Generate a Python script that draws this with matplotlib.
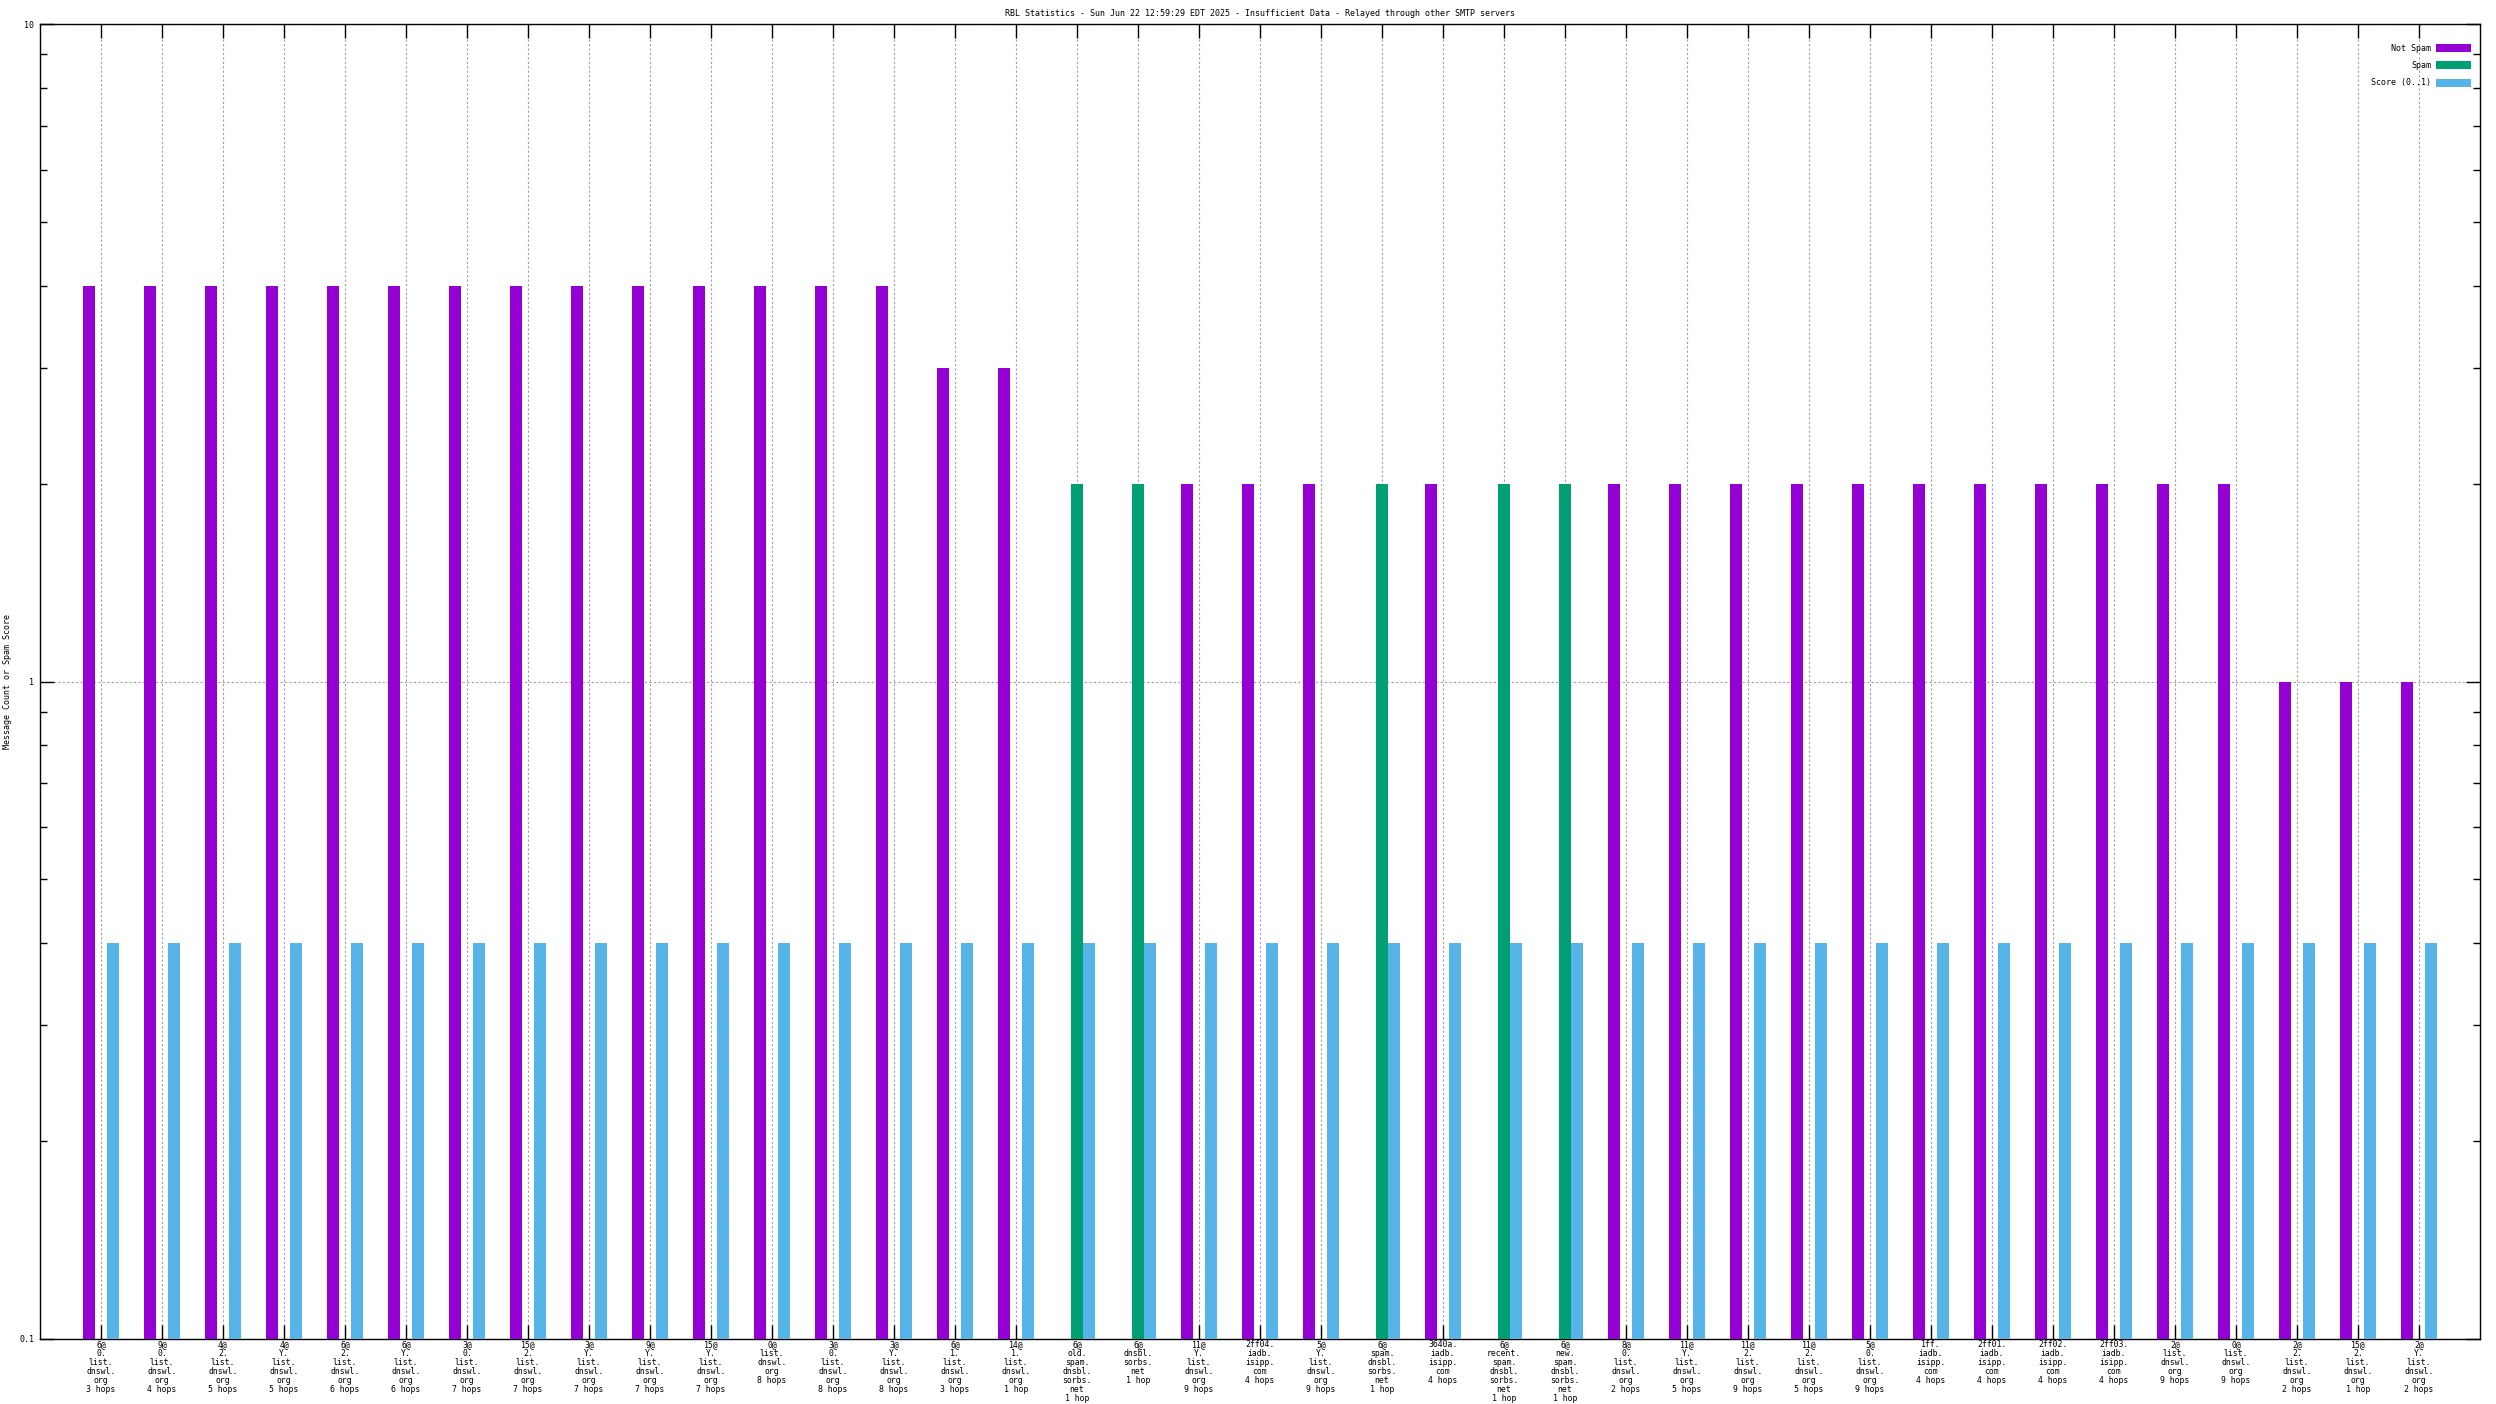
import matplotlib
matplotlib.use('Agg')
from matplotlib import pyplot as plt
from matplotlib.ticker import LogLocator, NullFormatter
import numpy as np

# RBL statistik
labels = [
    '6@\n0.\nlist.\ndnswl.\norg\n3 hops',
    '9@\n0.\nlist.\ndnswl.\norg\n4 hops',
    '4@\n2.\nlist.\ndnswl.\norg\n5 hops',
    '4@\nY.\nlist.\ndnswl.\norg\n5 hops',
    '6@\n2.\nlist.\ndnswl.\norg\n6 hops',
    '6@\nY.\nlist.\ndnswl.\norg\n6 hops',
    '3@\n0.\nlist.\ndnswl.\norg\n7 hops',
    '15@\n2.\nlist.\ndnswl.\norg\n7 hops',
    '3@\nY.\nlist.\ndnswl.\norg\n7 hops',
    '9@\nY.\nlist.\ndnswl.\norg\n7 hops',
    '15@\nY.\nlist.\ndnswl.\norg\n7 hops',
    '0@\nlist.\ndnswl.\norg\n8 hops',
    '3@\n0.\nlist.\ndnswl.\norg\n8 hops',
    '3@\nY.\nlist.\ndnswl.\norg\n8 hops',
    '6@\n1.\nlist.\ndnswl.\norg\n3 hops',
    '14@\n1.\nlist.\ndnswl.\norg\n1 hop',
    '6@\nold.\nspam.\ndnsbl.\nsorbs.\nnet\n1 hop',
    '6@\ndnsbl.\nsorbs.\nnet\n1 hop',
    '11@\nY.\nlist.\ndnswl.\norg\n9 hops',
    '2ff04.\niadb.\nisipp.\ncom\n4 hops',
    '5@\nY.\nlist.\ndnswl.\norg\n9 hops',
    '6@\nspam.\ndnsbl.\nsorbs.\nnet\n1 hop',
    '3640a.\niadb.\nisipp.\ncom\n4 hops',
    '6@\nrecent.\nspam.\ndnsbl.\nsorbs.\nnet\n1 hop',
    '6@\nnew.\nspam.\ndnsbl.\nsorbs.\nnet\n1 hop',
    '8@\n0.\nlist.\ndnswl.\norg\n2 hops',
    '11@\nY.\nlist.\ndnswl.\norg\n5 hops',
    '11@\n2.\nlist.\ndnswl.\norg\n9 hops',
    '11@\n2.\nlist.\ndnswl.\norg\n5 hops',
    '5@\n0.\nlist.\ndnswl.\norg\n9 hops',
    '1ff.\niadb.\nisipp.\ncom\n4 hops',
    '2ff01.\niadb.\nisipp.\ncom\n4 hops',
    '2ff02.\niadb.\nisipp.\ncom\n4 hops',
    '2ff03.\niadb.\nisipp.\ncom\n4 hops',
    '2@\nlist.\ndnswl.\norg\n9 hops',
    '0@\nlist.\ndnswl.\norg\n9 hops',
    '2@\n2.\nlist.\ndnswl.\norg\n2 hops',
    '15@\n2.\nlist.\ndnswl.\norg\n1 hop',
    '2@\nY.\nlist.\ndnswl.\norg\n2 hops',
]
not_spam = [4, 4, 4, 4, 4, 4, 4, 4, 4, 4, 4, 4, 4, 4, 3, 3,
            0, 0, 2, 2, 2, 0, 2, 0, 0,
            2, 2, 2, 2, 2, 2, 2, 2, 2, 2, 2, 1, 1, 1]
spam = [0, 0, 0, 0, 0, 0, 0, 0, 0, 0, 0, 0, 0, 0, 0, 0,
        2, 2, 0, 0, 0, 2, 0, 2, 2,
        0, 0, 0, 0, 0, 0, 0, 0, 0, 0, 0, 0, 0, 0]
score = [0.4, 0.4, 0.4, 0.4, 0.4, 0.4, 0.4, 0.4, 0.4, 0.4, 0.4, 0.4, 0.4,
         0.4, 0.4, 0.4, 0.4, 0.4, 0.4, 0.4, 0.4, 0.4, 0.4, 0.4, 0.4, 0.4,
         0.4, 0.4, 0.4, 0.4, 0.4, 0.4, 0.4, 0.4, 0.4, 0.4, 0.4, 0.4, 0.4]

title = 'RBL Statistics - Sun Jun 22 12:59:29 EDT 2025 - Insufficient Data - Relayed through other SMTP servers'

plt.rcParams['font.family'] = ['DejaVu Sans Mono']
W, H = 2496, 1404
fig = plt.figure(figsize=(W / 100, H / 100), dpi=100)
# aksen i piksler: venstre 40, høyre 2480, topp 24, bunn 1339
ax = fig.add_axes([40 / W, 1 - 1339 / H, (2480 - 40) / W, (1339 - 24) / H])

x = np.arange(len(labels))
bw = 0.2
ax.set_yscale('log')
ax.bar(x - bw, not_spam, bw, color='#9400d3', label='Not Spam', zorder=3)
ax.bar(x, spam, bw, color='#009e73', label='Spam', zorder=3)
ax.bar(x + bw, score, bw, color='#56b4e9', label='Score (0..1)', zorder=3)

ax.set_xlim(-1, 39)
ax.set_ylim(0.1, 10)
ax.set_xticks(x)
ax.set_xticklabels(labels, fontsize=5.9, linespacing=0.98, multialignment='center')
ax.set_yticks([0.1, 1, 10])
ax.set_yticklabels(['0.1', '1', '10'], fontsize=6)
ax.yaxis.set_minor_locator(LogLocator(base=10, subs=np.arange(2, 10)))
ax.yaxis.set_minor_formatter(NullFormatter())

ax.tick_params(axis='x', which='major', direction='in', length=10, width=1,
               top=True, bottom=True, pad=1)
ax.tick_params(axis='y', which='major', direction='in', length=10, width=1,
               left=True, right=True, pad=4)
ax.tick_params(axis='y', which='minor', direction='in', length=5, width=1,
               left=True, right=True)
for s in ax.spines.values():
    s.set_linewidth(1)

ax.grid(True, axis='x', which='major', color='#a0a0a0', linestyle=(0, (2, 2)), linewidth=0.8, zorder=0)
ax.grid(True, axis='y', which='major', color='#a0a0a0', linestyle=(0, (2, 2)), linewidth=0.8, zorder=0)
ax.set_axisbelow(True)

ax.set_title(title, fontsize=6, pad=6)
fig.text(8 / W, 1 - 681.5 / H, 'Message Count or Spam Score', rotation=90,
         ha='center', va='center', fontsize=6)

bx = (2471 - 40) / (2480 - 40)
by = 1 - (44 - 24) / (1339 - 24)
ax.legend(loc='upper right', bbox_to_anchor=(bx, by), frameon=False, markerfirst=False,
          fontsize=6, handlelength=4.2, handleheight=1.1, handletextpad=0.6,
          labelspacing=0.98, borderpad=0, borderaxespad=0)

fig.savefig('out.png', dpi=100)
